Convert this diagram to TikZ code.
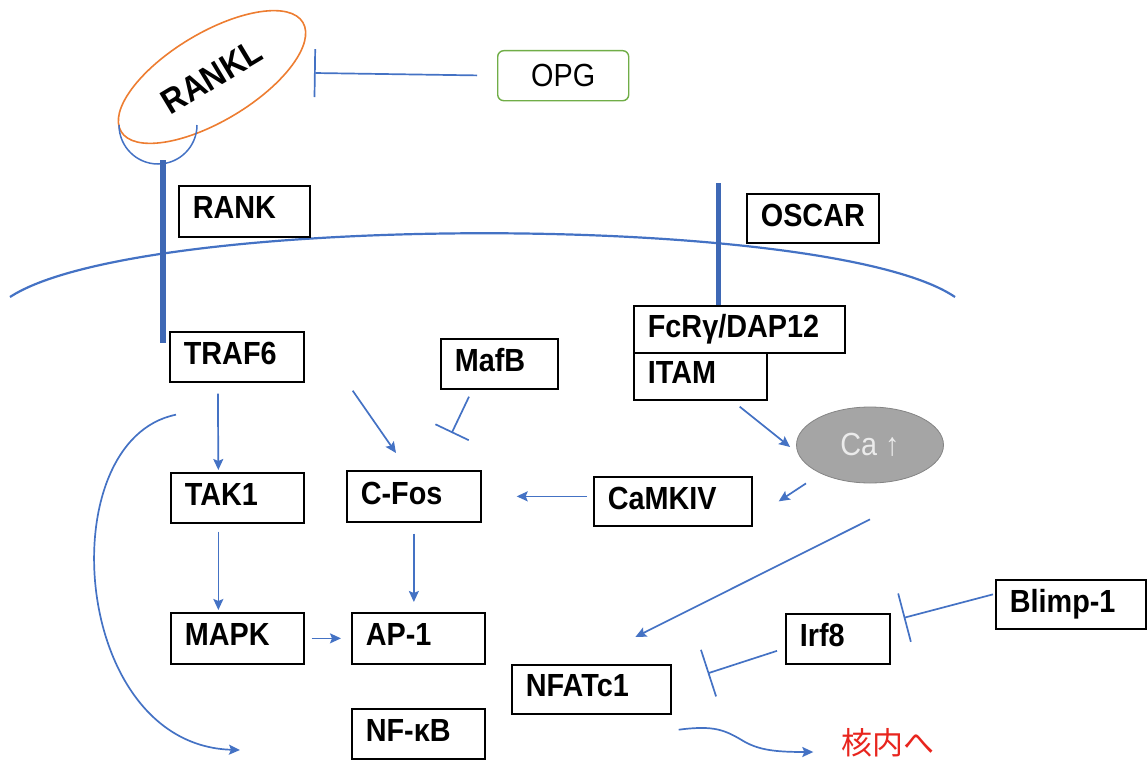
\documentclass[tikz,border=0pt]{standalone}
\usepackage{fontspec}
\setmainfont{Liberation Sans}
\newfontfamily\mybxfam[FakeStretch=0.9]{Liberation Sans}
\newfontfamily\mycjkfam{Noto Sans CJK JP}
\usetikzlibrary{arrows.meta,shapes.geometric}
\definecolor{lblue}{HTML}{4472C4}
\definecolor{tblue}{HTML}{3E68B5}
\definecolor{rorange}{HTML}{ED7D31}
\definecolor{ogreen}{HTML}{70AD47}
\definecolor{cagray}{HTML}{A5A5A5}
\definecolor{nucred}{HTML}{E8251E}
\newcommand\mybxfont{\mybxfam\bfseries\fontsize{32}{34}\selectfont}
\newcommand\myrgfont{\mybxfam\fontsize{32}{34}\selectfont}
\begin{document}
\begin{tikzpicture}[x=1pt,y=-1pt,
  bx/.style={draw, line width=1.7pt, anchor=north west, inner xsep=14pt, inner ysep=0pt,
    align=left, font=\mybxfont, text depth=7pt},
  arr/.style={draw=lblue, line width=1.7pt, -{Stealth[length=11pt,width=10pt,inset=2pt]}},
  inh/.style={draw=lblue, line width=1.7pt, -{Bar[width=#1]}},
  memb/.style={draw=lblue, line width=2.2pt},
  thick/.style={draw=tblue, line width=#1}]
\useasboundingbox (0,0) rectangle (1148,760);

% membrane
\draw[memb] (10,297) .. controls (140,212) and (830,212) .. (955,297);

% RANKL
\node[ellipse, draw=rorange, line width=1.6pt, minimum width=212pt, minimum height=88pt,
  inner sep=0pt, rotate=31, font=\mybxfam\bfseries\fontsize{35}{37}\selectfont] (RANKL) at (212,77) {RANKL};
\draw[draw=lblue, line width=1.5pt] (119,125) arc[start angle=180, end angle=360, radius=39pt];
\draw[thick=6.5pt] (163,160) -- (163,343);
\draw[thick=5pt] (718,183) -- (718,305);

% OPG
\node[draw=ogreen, line width=1.4pt, rounded corners=6pt, anchor=north west,
  minimum width=131pt, minimum height=50pt, inner sep=0pt, font=\myrgfont] (OPG) at (497,50) {OPG};
\coordinate (opgbar) at (314,73);

% boxes
\node[bx, text width=103pt, minimum height=51pt] (RANK) at (178,185) {RANK};
\node[bx, text width=104pt, minimum height=49pt] (OSCAR) at (746,193) {OSCAR};
\node[bx, text width=183pt, minimum height=47pt] (FcR) at (633,305) {FcRγ/DAP12};
\node[bx, text width=105pt, minimum height=47pt] (ITAM) at (633,352) {ITAM};
\node[bx, text width=106pt, minimum height=50pt] (TRAF6) at (169,331) {TRAF6};
\node[bx, text width=89pt, minimum height=50pt] (MafB) at (440,338) {MafB};
\node[bx, text width=105pt, minimum height=50pt] (TAK1) at (170,472) {TAK1};
\node[bx, text width=106pt, minimum height=51pt] (CFos) at (346,470) {C-Fos};
\node[bx, text width=130pt, minimum height=49pt] (CaMKIV) at (593,476) {CaMKIV};
\node[bx, text width=105pt, minimum height=51pt] (MAPK) at (170,612) {MAPK};
\node[bx, text width=105pt, minimum height=51pt] (AP1) at (351,612) {AP-1};
\node[bx, text width=105pt, minimum height=50pt] (NFkB) at (351,708) {NF-κB};
\node[bx, text width=131pt, minimum height=49pt] (NFATc1) at (511,664) {NFATc1};
\node[bx, text width=76pt, minimum height=50pt] (Irf8) at (785,613) {Irf8};
\node[bx, text width=122pt, minimum height=49pt] (Blimp) at (995,579) {Blimp-1};

% Ca
\node[ellipse, draw=cagray!80!black, line width=0.8pt, fill=cagray, minimum width=147pt,
  minimum height=76pt, inner sep=0pt, text=white!92!black, font=\myrgfont] (Ca) at (870,445) {Ca ↑};

% nucleus label
\node[text=nucred, font=\mycjkfam\fontsize{31}{33}\selectfont, inner sep=0pt] (nuc) at (888,743) {核内へ};
\coordinate (curveend) at (240,750);

% connectors
\draw[inh=48pt, shorten <=20pt] (OPG.west) -- (opgbar);
\draw[arr, shorten <=11pt, shorten >=2pt] ([xshift=-19pt]TRAF6.south) -- ([xshift=-19pt]TAK1.north);
\draw[arr, shorten <=8pt, shorten >=2pt] ([xshift=-19pt]TAK1.south) -- ([xshift=-19pt]MAPK.north);
\draw[arr] ([shift={(48,8)}]TRAF6.south east) -- ([shift={(50,-17)}]CFos.north west);
\draw[inh=37pt] ([shift={(29,7)}]MafB.south west) -- ([shift={(-30,-37)}]CFos.north east);
\draw[arr, shorten <=6pt, shorten >=35pt] (CaMKIV.west |- CFos.east) -- (CFos.east);
\draw[arr, shorten <=11pt, shorten >=10pt] (CFos.south) -- (CFos.south |- AP1.north);
\draw[arr, shorten <=7pt, shorten >=10pt] (MAPK.east) -- (AP1.west);
\draw[arr] ([shift={(-28,6)}]ITAM.south east) -- ([shift={(-6,2)}]Ca.west);
\draw[arr] ([xshift=-64pt]Ca.south) -- ([xshift=26pt]CaMKIV.east);
\draw[arr] ([yshift=-36pt]Ca.south) -- ([shift={(44,-27)}]NFATc1.north);
\draw[inh=49pt] ([shift={(-8,12)}]Irf8.west) -- ([shift={(36,-16)}]NFATc1.east);
\draw[inh=50pt] ([shift={(-2,-10)}]Blimp.west) -- ([shift={(13,-21)}]Irf8.east);
\draw[arr] ([shift={(7,32)}]TRAF6.south west) .. controls (50,440) and (70,745) .. (curveend);
\draw[arr] ([shift={(7,15)}]NFATc1.south east) .. controls (715,725) and (725,730) .. (745,742)
  .. controls (760,750) and (775,752) .. ([shift={(-28,9)}]nuc.west);
\end{tikzpicture}
\end{document}
